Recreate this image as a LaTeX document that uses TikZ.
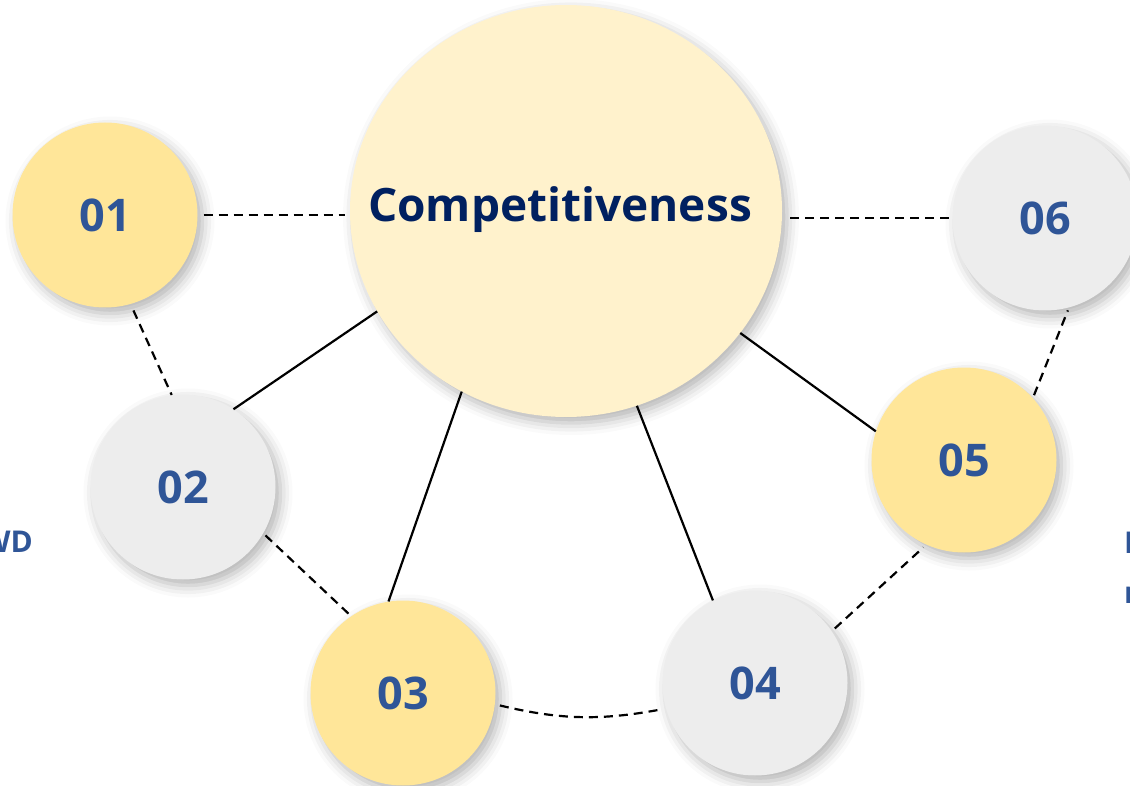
\documentclass[tikz,border=0pt]{standalone}
\usepackage{fontspec}
\setmainfont{Open Sans}
\usetikzlibrary{shapes.geometric,shadows.blur}
\definecolor{gold}{HTML}{FFE699}
\definecolor{pale}{HTML}{FFF2CC}
\definecolor{ash}{HTML}{EDEDED}
\definecolor{numblue}{HTML}{2F5597}
\definecolor{navy}{HTML}{002060}
\begin{document}
\begin{tikzpicture}[x=1pt, y=-1pt,
  soft/.style={blur shadow={shadow xshift=5pt, shadow yshift=-6pt, shadow blur radius=12pt, shadow opacity=30}},
  ball/.style={circle, minimum size=185pt, inner sep=0pt, soft, text=numblue, font=\fontsize{45}{45}\selectfont\bfseries},
  link/.style={line width=2.2pt},
  dlink/.style={line width=2.2pt, dash pattern=on 9pt off 6pt},
  side/.style={text=numblue, inner sep=0pt, font=\fontsize{30}{30}\selectfont\bfseries}]
\clip (0,0) rectangle (1130,786);
\node[ellipse, minimum width=432pt, minimum height=412pt, inner sep=0pt, soft, fill=pale] (core) at (566,211){};
\node[anchor=base, inner sep=0pt, text=navy, font=\fontsize{46}{46}\selectfont\bfseries] (title) at (560,222){Competitiveness};
\node[ball, fill=gold] (c01) at (105,215){01};
\node[ball, fill=ash] (c02) at (183,487){02};
\node[ball, fill=gold] (c03) at (403,693){03};
\node[ball, fill=ash] (c04) at (755,683){04};
\node[ball, fill=gold] (c05) at (964,460){05};
\node[ball, fill=ash] (c06) at (1045,218){06};
\node[side, anchor=base east] (wd) at (33,552){WD};
\node[side, anchor=base west] (ee) at (1124,553){E};
\node[side, anchor=base west] (nn) at (1124,603){n};
\draw[dlink, shorten <=6pt, shorten >=5pt](c01.east) -- (c01.east -| core.west);
\draw[dlink, shorten <=8pt, shorten >=2pt](c06.west -| core.east) -- (c06.west);
\draw[dlink, shorten <=7pt](c01.-74) -- (c02.97);
\draw[dlink, shorten <=3pt, shorten >=3pt](c02.-30) -- (c03.124);
\draw[dlink, shorten <=5pt, shorten >=5pt](c03.-7) to[bend right=12] (c04.196);
\draw[dlink, shorten <=4pt, shorten >=4pt](c04.34) -- (c05.-114);
\draw[dlink, shorten <=3pt, shorten >=3pt](c05.42) -- (c06.-75);
\draw[link](core.-152) -- (c02.57);
\draw[link](core.-120) -- (c03.99);
\draw[link](core.-70) -- (c04.117);
\draw[link](core.-35) -- (c05.162);
\end{tikzpicture}
\end{document}
